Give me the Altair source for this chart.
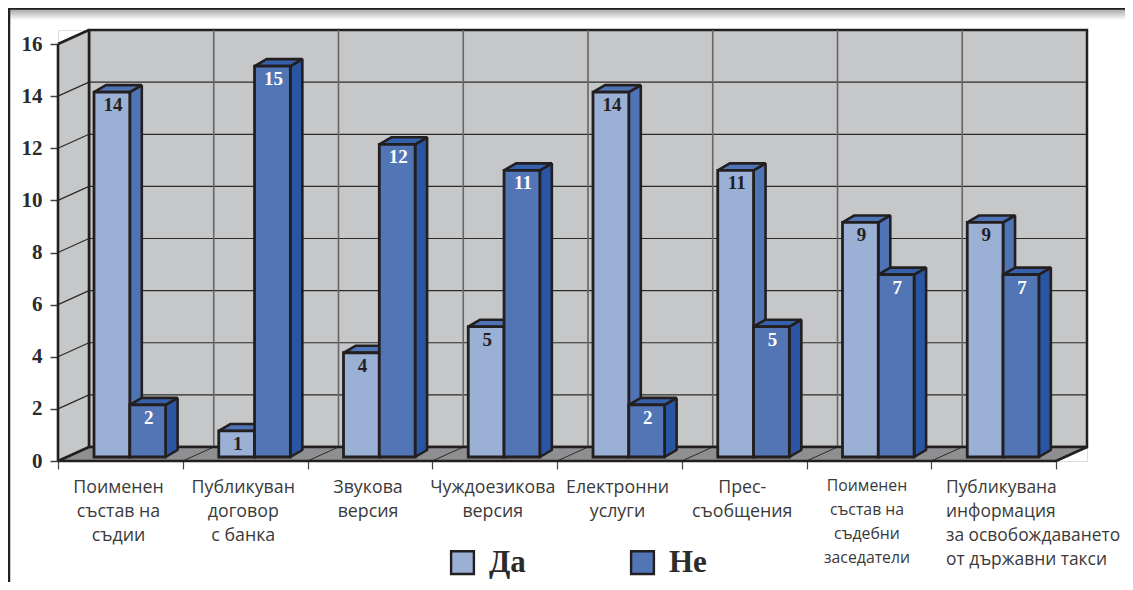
import altair as alt
import pandas as pd

# ---- values ----
series_names = ["Да", "Не"]
yes_values = [14, 1, 4, 5, 14, 11, 9, 9]
no_values = [2, 15, 12, 11, 2, 5, 7, 7]
labels_main = ["Поименен\nсъстав на\nсъдии", "Публикуван\nдоговор\nс банка", "Звукова\nверсия",
               "Чуждоезикова\nверсия", "Електронни\nуслуги", "Прес-\nсъобщения"]
label_small = "Поименен\nсъстав на\nсъдебни\nзаседатели"
label_left = "Публикувана\nинформация\nза освобождаването\nот държавни такси"
y_ticks = [0, 2, 4, 6, 8, 10, 12, 14, 16]
x_ticks = list(range(9))

# ---- geometry in data units ----
N = len(yes_values)
W, H = 1029, 431
PX, PY = 124.75, 26.06          # pixels per data unit
XMAX, YMAX = W / PX, H / PY
WX, WY = 31 / PX, 14 / PY       # depth of the chart box
BX, BY = 12 / PX, 7 / PY        # depth of a bar
B0 = 4 / PY                     # bars stand a little above the front edge
BL, BW = 36 / PX, 35.8 / PX     # bar offset in a category, bar width
DARK = "#231f20"

x_s = alt.Scale(domain=[0, XMAX], nice=False, zero=False)
y_s = alt.Scale(domain=[0, YMAX], nice=False, zero=False)
x_axis = alt.Axis(values=x_ticks, labels=False, domain=False, grid=False, tickSize=8,
                  tickColor="#444444", tickWidth=1.2, title=None)
y_axis = alt.Axis(values=y_ticks, domain=False, grid=False, tickSize=8, tickColor="#444444",
                  tickWidth=1.5, labelFont="Liberation Serif", labelFontWeight="bold",
                  labelFontSize=21, labelColor="#2b2b2b", labelPadding=8, format="d", title=None)
X = alt.X("x:Q", scale=x_s, axis=x_axis)
X2 = alt.X2("x2:Q")
Y = alt.Y("y:Q", scale=y_s, axis=y_axis)
Y2 = alt.Y2("y2:Q")


def rects(rows, **mark):
    return alt.Chart(pd.DataFrame(rows)).mark_rect(**mark).encode(x=X, x2=X2, y=Y, y2=Y2)


def polys(rows, **mark):
    return alt.Chart(pd.DataFrame(rows)).mark_area(orient="vertical", **mark).encode(
        x=X, y=Y, y2=Y2, detail="id:N")


def segs(rows, **mark):
    return alt.Chart(pd.DataFrame(rows)).mark_line(**mark).encode(
        x=X, y=Y, detail="id:N", order="k:Q")


def seg_rows(lines):
    out = []
    for i, ((a, b), (c, d)) in enumerate(lines):
        out += [dict(id=i, k=0, x=a, y=b), dict(id=i, k=1, x=c, y=d)]
    return out


def side_rows(i, xr, top, base, dx, dy):
    return [dict(id=i, x=xr, y=base, y2=top), dict(id=i, x=xr + dx, y=base + dy, y2=top + dy)]


def top_rows(i, l, r, v, dx, dy):
    return [dict(id=i, x=l, y=v, y2=v), dict(id=i, x=l + dx, y=v, y2=v + dy),
            dict(id=i, x=r, y=v, y2=v + dy), dict(id=i, x=r + dx, y=v + dy, y2=v + dy)]


wall = rects([dict(x=WX, x2=N + WX, y=WY, y2=16 + WY)], fill="#c6c7c9", stroke=DARK, strokeWidth=2.5)

# --- page furniture: shadow strip and frame edges ---
strip_top, strip_bot = YMAX + 22 / PY, YMAX + 10 / PY
strip = rects([dict(x=-50 / PX, x2=(W + 38) / PX, y=strip_bot, y2=strip_top)],
              fill=alt.Gradient(gradient="linear", x1=0, x2=0, y1=0, y2=1,
                                stops=[alt.GradientStop(color="#9c9c9c", offset=0),
                                       alt.GradientStop(color="#ffffff", offset=1)]))
frame = segs(seg_rows([((-49 / PX, YMAX + 22 / PY), (-49 / PX, -121 / PY)),
                       ((-50 / PX, YMAX + 21.5 / PY), ((W + 38) / PX, YMAX + 21.5 / PY))]),
             color=DARK, strokeWidth=2.5)

# --- box: left wall, floor, grid ---
left_wall = polys(side_rows(0, 0, 16, 0, WX, WY), fill="#c6c7c9")
floor = polys(top_rows(0, 0, N, 0, WX, WY), fill="#8e8f91")
grid_h = segs(seg_rows([((0, v), (WX, v + WY)) for v in y_ticks[1:-1]]
                       + [((WX, v + WY), (N + WX, v + WY)) for v in y_ticks[1:-1]]),
              color="#2b2b2b", strokeWidth=1.2)
grid_v_wall = rects([dict(x=k + WX, x2=k + WX, y=WY, y2=16 + WY) for k in range(1, N)],
                    stroke="#666666", strokeWidth=1.6)
grid_v_floor = segs(seg_rows([((k, 0), (k + WX, WY)) for k in range(1, N)]),
                    color="#2b2b2b", strokeWidth=1)
box_edges = segs(seg_rows([((0, 0), (0, 16)), ((0, 16), (WX, 16 + WY)), ((0, 0), (WX, WY)),
                           ((WX, WY), (N + WX, WY)), ((0, 0), (N, 0)), ((N, 0), (N + WX, WY)),
                           ((WX, WY), (WX, 16 + WY))]),
                 color=DARK, strokeWidth=2.6)


# --- bars ---
def bar_layers(values, start, name, side_fill, top_fill, text_fill):
    front, side, top, text = [], [], [], []
    for c, v in enumerate(values):
        l = c + BL + start * BW
        r = l + BW
        t = v + B0
        front.append(dict(x=l, x2=r, y=B0, y2=t, series=name))
        side += side_rows(c, r, t, B0, BX, BY)
        top += top_rows(c, l, r, t, BX, BY)
        text.append(dict(x=(l + r) / 2, y=t, v=v))
    f = alt.Chart(pd.DataFrame(front)).mark_rect(stroke=DARK, strokeWidth=2.8).encode(
        x=X, x2=X2, y=Y, y2=Y2,
        color=alt.Color("series:N",
                        scale=alt.Scale(domain=series_names, range=["#9bb0d5", "#5275b5"]),
                        legend=alt.Legend(title=None, orient="none", legendX=389, legendY=517,
                                          direction="horizontal", symbolType="square", symbolSize=520,
                                          symbolStrokeColor=DARK, symbolStrokeWidth=2.4,
                                          symbolOpacity=1, labelFont="Liberation Serif",
                                          labelFontWeight="bold", labelFontSize=31, labelColor="#2b2b2b",
                                          labelOffset=11, columnPadding=100, labelLimit=100)))
    s = polys(side, fill=side_fill, stroke=DARK, strokeWidth=2.6, strokeJoin="bevel")
    tp = polys(top, fill=top_fill, stroke=DARK, strokeWidth=2.6, strokeJoin="bevel")
    tx = alt.Chart(pd.DataFrame(text)).mark_text(
        font="Liberation Serif", fontWeight="bold", fontSize=19, color=text_fill,
        baseline="middle", dy=13, dx=1).encode(x=X, y=Y, text=alt.Text("v:Q", format="d"))
    return [s, tp, f, tx]


# --- category labels ---
def cat_text(rows, **mark):
    return alt.Chart(pd.DataFrame(rows)).mark_text(
        font="Open Sans", color="#3a3a3a", lineBreak="\n", lineHeight=24, baseline="top", **mark
    ).encode(x=X, y=Y, text="t:N")


label_y = -17.5 / PY
text_main = cat_text([dict(x=k + 0.485, y=label_y, t=t) for k, t in enumerate(labels_main)],
                     fontSize=17.8, align="center")
text_small = cat_text([dict(x=6 + 0.485, y=label_y, t=label_small)], fontSize=15.8, align="center")
text_left = cat_text([dict(x=7 + 0.118, y=label_y, t=label_left)], fontSize=17.4, align="left")

chart = alt.layer(
    wall, strip, frame, left_wall, floor, grid_h, grid_v_wall, grid_v_floor, box_edges,
    *bar_layers(yes_values, 0, series_names[0], "#4f74b5", "#4f74b5", "#231f20"),
    *bar_layers(no_values, 1, series_names[1], "#2955a3", "#3560ab", "#ffffff"),
    text_main, text_small, text_left,
).properties(
    width=W, height=H,
    padding={"left": 50, "top": 22, "right": 38, "bottom": 121},
    autosize=alt.AutoSizeParams(type="none"),
).configure_view(stroke=None).configure(background="#ffffff")

chart.save("out.html", embed_options={"renderer": "svg", "actions": False})
